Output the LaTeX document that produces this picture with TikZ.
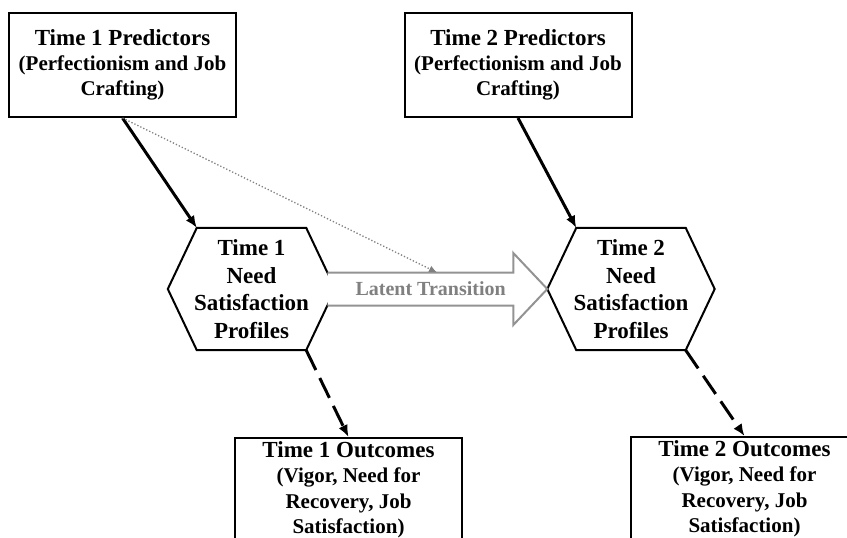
\documentclass[tikz,border=0pt]{standalone}
\usepackage{fontspec}
\setmainfont{Liberation Serif}
\usetikzlibrary{shapes,arrows.meta}
\usetikzlibrary{positioning}
\usetikzlibrary{calc}
\tikzstyle{box} = [draw, rectangle, line width=2pt, minimum width=227pt,
minimum height=104pt, align=center, inner sep=0pt,
font=\fontsize{23}{25}\selectfont\bfseries]
\tikzstyle{line} = [draw, line width=3pt, -{Latex[length=12pt,width=10pt]}]
\newcommand{\bigtxt}{\fontsize{23}{27.5}\selectfont\bfseries}
\newcommand{\subtxt}{\fontsize{21}{25}\selectfont\bfseries}

\begin{document}
\begin{tikzpicture}[x=1pt, y=-1pt,
    hexa/.style={minimum width=167pt, minimum height=122pt, align=center,
    inner sep=0pt, font=\bigtxt},
    hexline/.style={line width=2pt, line join=miter},
    dashline/.style={line, dash pattern=on 22pt off 9pt},
    hint/.style={draw, gray, line width=1.3pt, dotted,
    -{Latex[length=8pt,width=7pt]}},
    transarrow/.style={draw=gray!85, line width=2pt, fill=white}]
    \clip (0,0) rectangle (847,538);
    %% Predictors
    \node[box] (p1) at (122.5,65) {Time 1 Predictors\\
        \subtxt (Perfectionism and Job\\ \subtxt Crafting)};
    \node[box] (p2) at (518,65) {Time 2 Predictors\\
        \subtxt (Perfectionism and Job\\ \subtxt Crafting)};
    %% Profiles
    \node[hexa] (h1) at (251.5,289) {Time 1\\ Need\\ Satisfaction\\ Profiles};
    \node[hexa] (h2) at (631,289) {Time 2\\ Need\\ Satisfaction\\ Profiles};
    \foreach \h in {h1,h2} {
        \draw[hexline] (\h.west) -- ([xshift=29pt]\h.north west)
            -- ([xshift=-29pt]\h.north east) -- (\h.east)
            -- ([xshift=-29pt]\h.south east) -- ([xshift=29pt]\h.south west) -- cycle;
        \coordinate (\h tl) at ([xshift=29pt]\h.north west);
        \coordinate (\h br) at ([xshift=-29pt]\h.south east);
    }
    %% Outcomes
    \node[box, font=\fontsize{23}{25.5}\selectfont\bfseries] (o1) at (348.5,490)
        {Time 1 Outcomes\\ \subtxt (Vigor, Need for\\ \subtxt Recovery, Job\\
        \subtxt Satisfaction)};
    \node[box, font=\fontsize{23}{25.5}\selectfont\bfseries] (o2) at (744.5,489)
        {Time 2 Outcomes\\ \subtxt (Vigor, Need for\\ \subtxt Recovery, Job\\
        \subtxt Satisfaction)};
    %% Latent transition
    \draw[transarrow] ([shift={(-7.5,-16.5)}]h1.east) -- ([shift={(-34,-16.5)}]h2.west)
        -- ([shift={(-34,-36)}]h2.west) -- (h2.west) -- ([shift={(-34,36)}]h2.west)
        -- ([shift={(-34,16.5)}]h2.west) -- ([shift={(-7.5,16.5)}]h1.east);
    \node[text=gray, font=\fontsize{20}{24}\selectfont\bfseries] (lt)
        at ($(h1.east)!0.45!(h2.west)$) {Latent Transition};
    \coordinate (lttop) at ($(h1.east)!0.48!(h2.west)+(0,-16.5)$);
    %% Paths
    \path[line] (p1.south) -- (h1tl);
    \path[line] (p2.south) -- (h2tl);
    \path[hint] (p1.south) -- (lttop);
    \path[dashline] (h1br) -- (o1.north);
    \path[dashline] (h2br) -- (o2.north);
\end{tikzpicture}
\end{document}
